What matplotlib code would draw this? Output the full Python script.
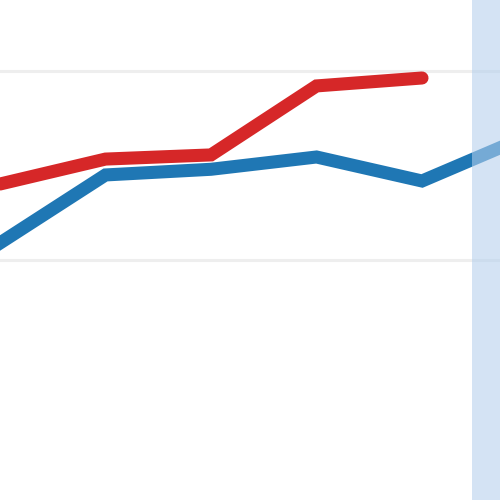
import matplotlib
matplotlib.use("Agg")
import matplotlib.pyplot as plt

# series values (index positions along x)
x_blue = [0, 1, 2, 3, 4, 5]
blue = [1.09, 1.45, 1.48, 1.545, 1.418, 1.656]
x_red = [0, 1, 2, 3, 4]
red = [1.402, 1.534, 1.556, 1.921, 1.963]
grid_vals = [1, 2]

fig = plt.figure(figsize=(5, 5), dpi=100)
ax = fig.add_axes([0, 0, 1, 1])

ax.plot(x_blue, blue, color="#1f77b4", lw=9.4, solid_joinstyle="miter", solid_capstyle="projecting", zorder=3)
ax.plot(x_red, red, color="#d62728", lw=9.4, solid_joinstyle="miter", solid_capstyle="round", zorder=3)

# shaded region on the right, drawn over the lines
ax.axvspan(4.474, 6, color=(0.71, 0.815, 0.93), alpha=0.58, lw=0, zorder=4)

for g in grid_vals:
    ax.axhline(g, color="#eeeeee", lw=2.2, zorder=1)

ax.set_xlim(0, 500 / 105.5)
ax.set_ylim(1 - 240 / 189, 1 + 260 / 189)
ax.axis("off")

fig.savefig("out.png", dpi=100)
